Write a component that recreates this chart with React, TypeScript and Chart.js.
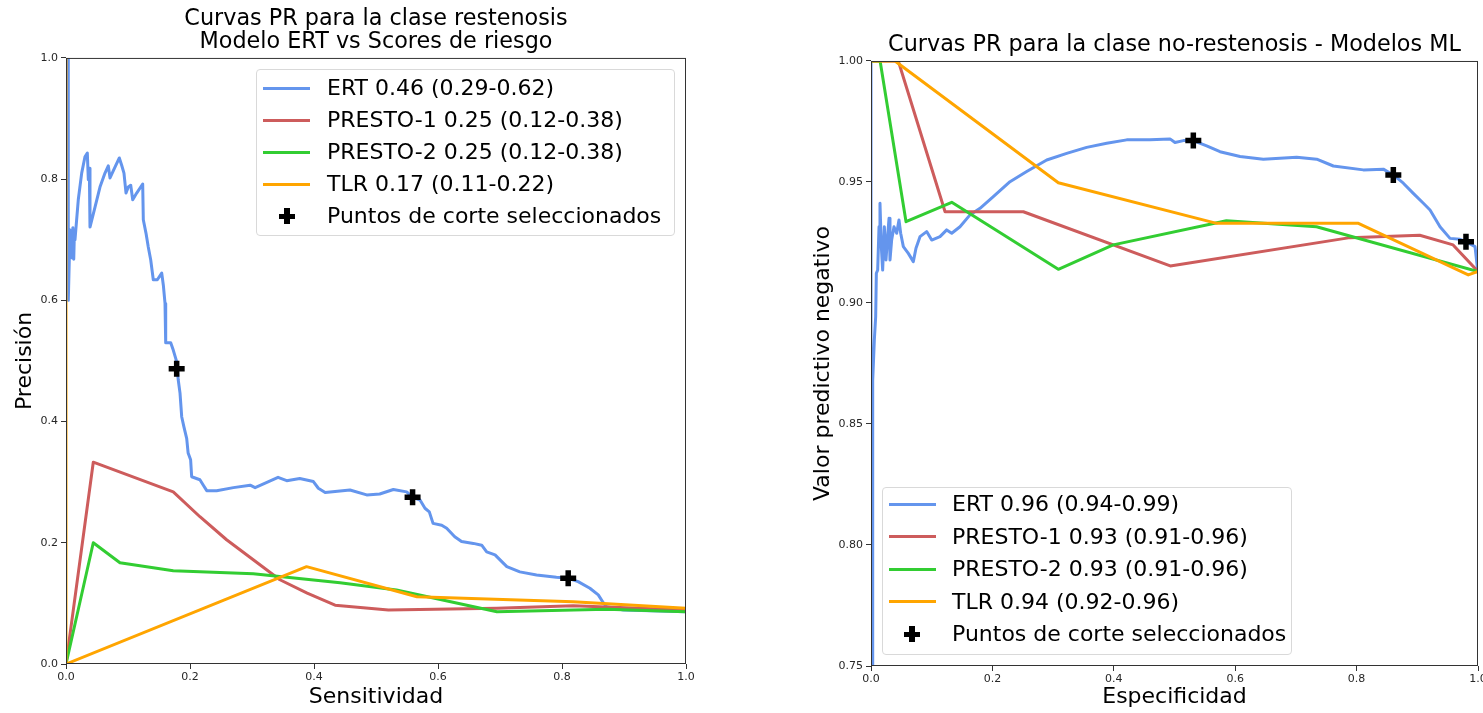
import React, { useEffect, useRef } from "react";
import { Chart, registerables } from "chart.js";

Chart.register(...registerables);

const FONT = "'DejaVu Sans', 'Liberation Sans', sans-serif";

// ---------- shared ----------
const SERIES_COLORS = ["#6495ED", "#CD5C5C", "#32CD32", "#FFA500"];
const MARKER_LABEL = "Puntos de corte seleccionados";

// ---------- left chart (restenosis) ----------
const LEFT_TITLE = ["Curvas PR para la clase restenosis", "Modelo ERT vs Scores de riesgo"];
const LEFT_X_TITLE = "Sensitividad";
const LEFT_Y_TITLE = "Precisión";
const LEFT_LEGEND = [
  "ERT 0.46 (0.29-0.62)",
  "PRESTO-1 0.25 (0.12-0.38)",
  "PRESTO-2 0.25 (0.12-0.38)",
  "TLR 0.17 (0.11-0.22)",
];
const LEFT_X_TICKS = [0, 0.2, 0.4, 0.6, 0.8, 1.0];
const LEFT_Y_TICKS = [0, 0.2, 0.4, 0.6, 0.8, 1.0];

const LEFT_ERT: [number, number][] = [
  [0.0037, 1.0], [0.0037, 0.6], [0.0065, 0.716], [0.0097, 0.67], [0.011, 0.72], [0.0125, 0.668],
  [0.0135, 0.71], [0.0145, 0.7], [0.0198, 0.766], [0.0253, 0.81], [0.0306, 0.837], [0.0344, 0.843],
  [0.036, 0.799], [0.0376, 0.818], [0.0387, 0.721], [0.0468, 0.754], [0.0548, 0.787], [0.0629, 0.81],
  [0.0682, 0.822], [0.071, 0.802], [0.079, 0.82], [0.086, 0.835], [0.0898, 0.823], [0.0935, 0.81],
  [0.0968, 0.777], [0.1005, 0.787], [0.1044, 0.79], [0.1076, 0.766], [0.114, 0.777], [0.1237, 0.792],
  [0.1247, 0.733], [0.129, 0.711], [0.1327, 0.688], [0.1366, 0.667], [0.1408, 0.634], [0.1473, 0.634],
  [0.1544, 0.645], [0.157, 0.625], [0.1597, 0.595], [0.1608, 0.53], [0.1689, 0.53], [0.173, 0.518],
  [0.1785, 0.499], [0.181, 0.469], [0.1839, 0.447], [0.1866, 0.408], [0.19, 0.392], [0.1947, 0.372],
  [0.197, 0.348], [0.201, 0.337], [0.2027, 0.309], [0.216, 0.304], [0.2215, 0.295], [0.227, 0.286],
  [0.243, 0.286], [0.27, 0.291], [0.297, 0.295], [0.305, 0.291], [0.324, 0.2995], [0.342, 0.308],
  [0.356, 0.3025], [0.377, 0.306], [0.399, 0.301], [0.407, 0.29], [0.418, 0.283], [0.458, 0.287],
  [0.485, 0.279], [0.506, 0.2805], [0.528, 0.288], [0.5495, 0.284], [0.559, 0.275], [0.571, 0.2706],
  [0.579, 0.257], [0.586, 0.251], [0.592, 0.232], [0.606, 0.229], [0.614, 0.224], [0.627, 0.21],
  [0.638, 0.202], [0.657, 0.199], [0.6705, 0.196], [0.6785, 0.185], [0.692, 0.18], [0.711, 0.1606],
  [0.732, 0.152], [0.759, 0.147], [0.791, 0.143], [0.81, 0.1414], [0.826, 0.136], [0.845, 0.125],
  [0.8585, 0.114], [0.8666, 0.101], [0.872, 0.0946], [0.899, 0.089], [1.0, 0.0863],
];
const LEFT_PRESTO1: [number, number][] = [
  [0, 0], [0.044, 0.333], [0.173, 0.284], [0.216, 0.243], [0.259, 0.205], [0.302, 0.172],
  [0.345, 0.139], [0.389, 0.117], [0.434, 0.097], [0.52, 0.089], [0.695, 0.092], [0.818, 0.096], [1.0, 0.089],
];
const LEFT_PRESTO2: [number, number][] = [
  [0, 0], [0.044, 0.2], [0.087, 0.167], [0.173, 0.154], [0.302, 0.149], [0.442, 0.134],
  [0.533, 0.122], [0.695, 0.0863], [0.872, 0.0903], [1.0, 0.0863],
];
const LEFT_TLR: [number, number][] = [
  [0, 1.0], [0, 0], [0.388, 0.1606], [0.566, 0.111], [0.818, 0.1028], [1.0, 0.092],
];
const LEFT_CUTS: [number, number][] = [[0.1785, 0.487], [0.559, 0.275], [0.81, 0.1414]];

// ---------- right chart (no-restenosis) ----------
const RIGHT_TITLE = ["Curvas PR para la clase no-restenosis - Modelos ML"];
const RIGHT_X_TITLE = "Especificidad";
const RIGHT_Y_TITLE = "Valor predictivo negativo";
const RIGHT_LEGEND = [
  "ERT 0.96 (0.94-0.99)",
  "PRESTO-1 0.93 (0.91-0.96)",
  "PRESTO-2 0.93 (0.91-0.96)",
  "TLR 0.94 (0.92-0.96)",
];
const RIGHT_X_TICKS = [0, 0.2, 0.4, 0.6, 0.8, 1.0];
const RIGHT_Y_TICKS = [0.75, 0.8, 0.85, 0.9, 0.95, 1.0];

const RIGHT_ERT: [number, number][] = [
  [0, 1.0], [0, 0.7], [0.0028, 0.7], [0.0028, 0.868], [0.0055, 0.8847], [0.0077, 0.8943],
  [0.0088, 0.9123], [0.011, 0.9136], [0.0132, 0.9315], [0.0148, 0.9412], [0.017, 0.9233], [0.0192, 0.9136],
  [0.022, 0.9315], [0.0247, 0.9178], [0.0269, 0.926], [0.0297, 0.935], [0.0313, 0.9178], [0.034, 0.926],
  [0.0379, 0.9315], [0.0423, 0.9288], [0.0461, 0.9343], [0.0489, 0.9288], [0.0533, 0.9233], [0.0615, 0.9205],
  [0.0697, 0.9171], [0.0741, 0.9226], [0.0807, 0.9274], [0.0917, 0.9295], [0.1, 0.926], [0.1137, 0.9274],
  [0.1247, 0.9302], [0.133, 0.9288], [0.1466, 0.9315], [0.1631, 0.9364], [0.1796, 0.9391], [0.2015, 0.9439],
  [0.229, 0.9501], [0.2565, 0.9543], [0.2895, 0.9591], [0.3224, 0.9618], [0.3553, 0.9643], [0.3883, 0.966],
  [0.4213, 0.9674], [0.4596, 0.9674], [0.4926, 0.9678], [0.5008, 0.9663], [0.5146, 0.9671], [0.531, 0.9671],
  [0.553, 0.9649], [0.575, 0.9625], [0.608, 0.9605], [0.6463, 0.9594], [0.7013, 0.9602], [0.7343, 0.9594],
  [0.7617, 0.9566], [0.811, 0.955], [0.844, 0.9553], [0.8605, 0.9529], [0.877, 0.9495], [0.8934, 0.9453],
  [0.91, 0.9412], [0.921, 0.9384], [0.9374, 0.9315], [0.9539, 0.9267], [0.9703, 0.9263], [0.9802, 0.9253],
  [0.9951, 0.9233], [1.0, 0.9123],
];
const RIGHT_PRESTO1: [number, number][] = [
  [0, 1.0], [0.045, 1.0], [0.122, 0.9377], [0.251, 0.9377], [0.493, 0.9153], [0.789, 0.927],
  [0.904, 0.928], [0.959, 0.924], [1.0, 0.913],
];
const RIGHT_PRESTO2: [number, number][] = [
  [0, 1.0], [0.015, 1.0], [0.0577, 0.9336], [0.133, 0.9416], [0.3086, 0.9139], [0.399, 0.924],
  [0.5855, 0.934], [0.734, 0.9315], [1.0, 0.913],
];
const RIGHT_TLR: [number, number][] = [
  [0, 1.0], [0.0395, 1.0], [0.3086, 0.9497], [0.5695, 0.9329], [0.803, 0.9329], [0.984, 0.9116], [1.0, 0.913],
];
const RIGHT_CUTS: [number, number][] = [[0.531, 0.9671], [0.8605, 0.9529], [0.9802, 0.9253]];

// ---------- chart building ----------
const framePlugin = {
  id: "axesFrame",
  afterDatasetsDraw(chart: any) {
    const { ctx, chartArea } = chart;
    const { left, top, right, bottom } = chartArea;
    ctx.save();
    ctx.strokeStyle = "#333";
    ctx.lineWidth = 1;
    ctx.strokeRect(left + 0.5, top + 0.5, right - left - 1, bottom - top - 1);
    ctx.restore();
  },
};

type ChartSpec = {
  series: [number, number][][];
  legend: string[];
  cuts: [number, number][];
  title: string[];
  titleLineHeight: number;
  titlePadding: { top: number; bottom: number };
  xTitle: string;
  yTitle: string;
  xTicks: number[];
  yTicks: number[];
  yMin: number;
  yDigits: number;
  yAxisWidth: number;
  xAxisHeight: number;
  yTitlePad: number;
  xTitlePad: number;
  padRight: number;
};

function buildConfig(p: ChartSpec): any {
  const n = p.series.length;
  const datasets: any[] = p.series.map((pts, i) => ({
    type: "line",
    label: p.legend[i],
    data: pts.map(([x, y]) => ({ x, y })),
    borderColor: SERIES_COLORS[i],
    backgroundColor: SERIES_COLORS[i],
    borderWidth: 3,
    borderJoinStyle: "round",
    pointRadius: 0,
    pointHoverRadius: 0,
    fill: false,
    tension: 0,
    clip: 0,
    order: n - i,
  }));
  datasets.push({
    type: "scatter",
    label: MARKER_LABEL,
    data: p.cuts.map(([x, y]) => ({ x, y })),
    pointStyle: "cross",
    pointRadius: 8,
    pointHoverRadius: 8,
    pointBorderWidth: 5.5,
    borderColor: "#000",
    backgroundColor: "#000",
    showLine: false,
    order: 0,
  });

  const tickFont = { family: FONT, size: 11 };
  const titleFont = { family: FONT, size: 22, weight: "normal" as const };
  const grid = { drawOnChartArea: false, drawTicks: true, tickLength: 5, color: "#333", tickColor: "#333" };

  return {
    type: "line",
    data: { datasets },
    plugins: [framePlugin],
    options: {
      responsive: false,
      animation: false,
      events: [],
      layout: { padding: { left: 0, right: p.padRight, top: 0, bottom: 0 } },
      plugins: {
        legend: { display: false },
        tooltip: { enabled: false },
        title: {
          display: true,
          fullSize: false,
          text: p.title,
          color: "#000",
          font: { family: FONT, size: 22.3, weight: "normal", lineHeight: p.titleLineHeight },
          padding: p.titlePadding,
        },
      },
      scales: {
        x: {
          type: "linear",
          min: 0,
          max: 1,
          afterBuildTicks: (s: any) => {
            s.ticks = p.xTicks.map((v) => ({ value: v }));
          },
          afterFit: (s: any) => {
            s.height = p.xAxisHeight;
          },
          ticks: {
            callback: (v: any) => Number(v).toFixed(1),
            font: tickFont,
            color: "#262626",
            padding: 2,
            autoSkip: false,
            maxRotation: 0,
          },
          grid,
          border: { display: false },
          title: {
            display: true,
            text: p.xTitle,
            color: "#000",
            font: titleFont,
            padding: { top: 0, bottom: p.xTitlePad },
          },
        },
        y: {
          type: "linear",
          min: p.yMin,
          max: 1,
          afterBuildTicks: (s: any) => {
            s.ticks = p.yTicks.map((v) => ({ value: v }));
          },
          afterFit: (s: any) => {
            s.width = p.yAxisWidth;
          },
          ticks: {
            callback: (v: any) => Number(v).toFixed(p.yDigits),
            font: tickFont,
            color: "#262626",
            padding: 3,
            autoSkip: false,
          },
          grid,
          border: { display: false },
          title: {
            display: true,
            text: p.yTitle,
            color: "#000",
            font: titleFont,
            padding: { top: p.yTitlePad, bottom: 0 },
          },
        },
      },
    },
  };
}

function PRChart({ spec, left, width }: { spec: ChartSpec; left: number; width: number }) {
  const ref = useRef<HTMLCanvasElement>(null);
  useEffect(() => {
    if (!ref.current) return;
    const chart = new Chart(ref.current, buildConfig(spec));
    return () => chart.destroy();
  }, []);
  return (
    <canvas
      ref={ref}
      width={width}
      height={713}
      style={{ position: "absolute", left, top: 0, width, height: 713 }}
    />
  );
}

function Legend(props: {
  left: number;
  top: number;
  width: number;
  height: number;
  firstRow: number;
  rowStep: number;
  labels: string[];
  lineLeft: number;
  textLeft: number;
  markerX: number;
}) {
  const { left, top, width, height, firstRow, rowStep, labels, lineLeft, textLeft, markerX } = props;
  const rows = [...labels, MARKER_LABEL];
  return (
    <div
      style={{
        position: "absolute",
        left,
        top,
        width,
        height,
        boxSizing: "border-box",
        border: "1px solid #d9d9d9",
        borderRadius: 4,
        background: "rgba(255,255,255,0.8)",
        fontFamily: FONT,
        fontSize: 22,
        color: "#000",
      }}
    >
      {rows.map((label, i) => {
        const center = firstRow + i * rowStep;
        const isMarker = i === labels.length;
        return (
          <div key={i} style={{ position: "absolute", left: 0, top: center - 16, height: 32, width: "100%" }}>
            {isMarker ? (
              <>
                <div style={{ position: "absolute", left: markerX - 8, top: 13.5, width: 16, height: 5.5, background: "#000" }} />
                <div style={{ position: "absolute", left: markerX - 2.75, top: 8, width: 5.5, height: 16, background: "#000" }} />
              </>
            ) : (
              <div
                style={{
                  position: "absolute",
                  left: lineLeft,
                  top: 14.5,
                  width: 47,
                  height: 3,
                  background: SERIES_COLORS[i],
                }}
              />
            )}
            <div style={{ position: "absolute", left: textLeft, top: 0, lineHeight: "32px", whiteSpace: "nowrap" }}>
              {label}
            </div>
          </div>
        );
      })}
    </div>
  );
}

const leftSpec: ChartSpec = {
  series: [LEFT_ERT, LEFT_PRESTO1, LEFT_PRESTO2, LEFT_TLR],
  legend: LEFT_LEGEND,
  cuts: LEFT_CUTS,
  title: LEFT_TITLE,
  titleLineHeight: 1.03,
  titlePadding: { top: 7.3, bottom: 4.7 },
  xTitle: LEFT_X_TITLE,
  yTitle: LEFT_Y_TITLE,
  xTicks: LEFT_X_TICKS,
  yTicks: LEFT_Y_TICKS,
  yMin: 0,
  yDigits: 1,
  yAxisWidth: 66,
  xAxisHeight: 49,
  yTitlePad: 12,
  xTitlePad: 3,
  padRight: 66,
};

const rightSpec: ChartSpec = {
  series: [RIGHT_ERT, RIGHT_PRESTO1, RIGHT_PRESTO2, RIGHT_TLR],
  legend: RIGHT_LEGEND,
  cuts: RIGHT_CUTS,
  title: RIGHT_TITLE,
  titleLineHeight: 1.12,
  titlePadding: { top: 33, bottom: 3 },
  xTitle: RIGHT_X_TITLE,
  yTitle: RIGHT_Y_TITLE,
  xTicks: RIGHT_X_TICKS,
  yTicks: RIGHT_Y_TICKS,
  yMin: 0.75,
  yDigits: 2,
  yAxisWidth: 74,
  xAxisHeight: 47,
  yTitlePad: 13,
  xTitlePad: 3,
  padRight: 74,
};

export default function App() {
  return (
    <div
      style={{
        position: "absolute",
        left: 0,
        top: 0,
        width: 1483,
        height: 713,
        overflow: "hidden",
        background: "#fff",
      }}
    >
      <PRChart spec={leftSpec} left={0} width={752} />
      <PRChart spec={rightSpec} left={797} width={755} />
      <Legend
        left={256}
        top={69}
        width={419}
        height={167}
        firstRow={18}
        rowStep={32}
        labels={LEFT_LEGEND}
        lineLeft={6}
        textLeft={70}
        markerX={30}
      />
      <Legend
        left={882}
        top={487}
        width={410}
        height={168}
        firstRow={16}
        rowStep={32.5}
        labels={RIGHT_LEGEND}
        lineLeft={6}
        textLeft={69}
        markerX={29}
      />
    </div>
  );
}
